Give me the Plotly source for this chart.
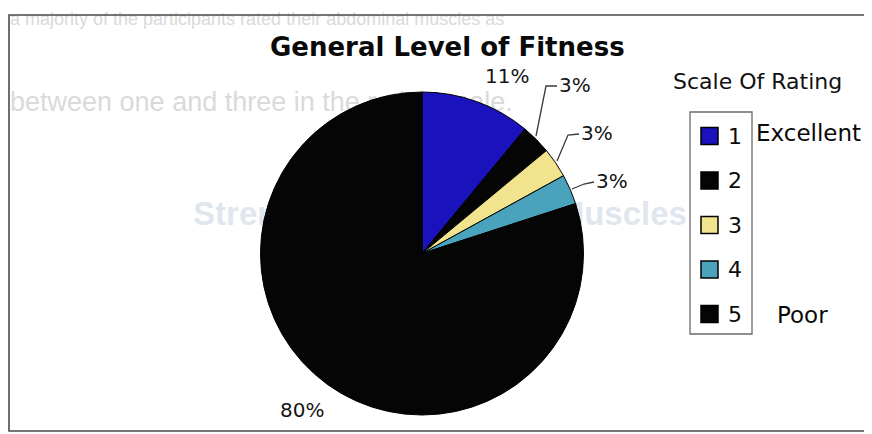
import plotly.graph_objects as go

# ---- data ----
ratings = ["1", "2", "3", "4", "5"]
rating_notes = ["Excellent", "", "", "", "Poor"]
percent_values = [11, 3, 3, 3, 80]
slice_colors = ["#1a12bc", "#050505", "#f2e48e", "#4aa2bc", "#050505"]

title_text = "General Level of Fitness"
legend_title = "Scale Of Rating"
bleed_lines = [
    "a majority of the participants rated their abdominal muscles as",
    "between one and three in the rating scale.",
    "Strength of Abdominal Muscles",
]

W, H = 872, 434
OFF = 8  # page body margin in the browser


def px(x):
    return (x - OFF) / W


def py(y):
    return 1 - (y - OFF) / H


# pie geometry (window pixels)
cx, cy, r = 422, 253.5, 161.5

fig = go.Figure()

# faint bleed-through text from the scanned page (drawn below the pie)
fig.add_trace(go.Scatter(
    x=[10], y=[20], mode="text",
    text=bleed_lines[:1], textposition="middle right",
    textfont=dict(family="Liberation Sans", size=18, color="#dadada"),
    hoverinfo="skip", showlegend=False, xaxis="x", yaxis="y",
))
fig.add_trace(go.Scatter(
    x=[10], y=[104], mode="text",
    text=bleed_lines[1:2], textposition="middle right",
    textfont=dict(family="Liberation Sans", size=27, color="#dadada"),
    hoverinfo="skip", showlegend=False, xaxis="x", yaxis="y",
))
fig.add_trace(go.Scatter(
    x=[440], y=[217], mode="text",
    text=["<b>" + bleed_lines[2] + "</b>"], textposition="middle center",
    textfont=dict(family="Liberation Sans", size=33, color="#e0e6ee"),
    hoverinfo="skip", showlegend=False, xaxis="x", yaxis="y",
))

fig.add_trace(go.Pie(
    labels=ratings,
    values=percent_values,
    sort=False,
    direction="clockwise",
    rotation=0,
    marker=dict(colors=slice_colors, line=dict(color="#000000", width=1)),
    textinfo="none",
    hoverinfo="label+percent",
    showlegend=False,
    domain=dict(x=[px(cx - r), px(cx + r)], y=[py(cy + r), py(cy - r)]),
))

annotations = []
shapes = []

# percentage labels
label_pos = [(507, 76), (575, 85), (597, 133), (612, 181), (302, 410)]
for v, (lx, ly) in zip(percent_values, label_pos):
    annotations.append(dict(
        x=px(lx), y=py(ly), xref="paper", yref="paper", text=f"{v}%",
        showarrow=False, xanchor="center", yanchor="middle",
        font=dict(family="DejaVu Sans", size=20, color="#151515"),
    ))

# leader lines for small slices
leaders = [
    [(557, 86), (546, 86), (536, 136)],
    [(579, 134), (568, 135), (557, 161)],
    [(594, 182), (584, 184), (572, 189)],
]
for pts in leaders:
    path = "M " + " L ".join(f"{px(x):.5f},{py(y):.5f}" for x, y in pts)
    shapes.append(dict(type="path", xref="paper", yref="paper", path=path,
                       line=dict(color="#3a3a3a", width=1.3)))

# title
annotations.append(dict(
    x=px(447), y=py(47), xref="paper", yref="paper", text="<b>" + title_text + "</b>",
    showarrow=False, xanchor="center", yanchor="middle",
    font=dict(family="DejaVu Sans", size=26, color="#0a0a0a"),
))

# legend title
annotations.append(dict(
    x=px(757), y=py(81), xref="paper", yref="paper", text=legend_title,
    showarrow=False, xanchor="center", yanchor="middle",
    font=dict(family="DejaVu Sans", size=22, color="#111111"),
))

# legend box
shapes.append(dict(type="rect", xref="paper", yref="paper",
                   x0=px(690), x1=px(752), y0=py(334), y1=py(112),
                   line=dict(color="#6a6a6a", width=1.3), fillcolor="rgba(0,0,0,0)"))

item_y0, item_step = 136, 44.5
for i, (lab, col, note) in enumerate(zip(ratings, slice_colors, rating_notes)):
    yc = item_y0 + i * item_step
    shapes.append(dict(type="rect", xref="paper", yref="paper",
                       x0=px(701), x1=px(718), y0=py(yc + 8.5), y1=py(yc - 8.5),
                       line=dict(color="#000000", width=1.5), fillcolor=col))
    annotations.append(dict(
        x=px(726), y=py(yc), xref="paper", yref="paper", text=lab,
        showarrow=False, xanchor="left", yanchor="middle",
        font=dict(family="DejaVu Sans", size=22, color="#0a0a0a"),
    ))
    if note:
        nx = 754 if i == 0 else 775
        ny = yc - 3 if i == 0 else yc + 1
        annotations.append(dict(
            x=px(nx), y=py(ny), xref="paper", yref="paper", text=note,
            showarrow=False, xanchor="left", yanchor="middle",
            font=dict(family="DejaVu Sans", size=23, color="#0a0a0a"),
        ))

# outer frame of the chart
shapes.append(dict(type="rect", xref="paper", yref="paper",
                   x0=px(9), x1=px(895), y0=py(431), y1=py(15),
                   line=dict(color="#4a4a4a", width=1.6), fillcolor="rgba(0,0,0,0)"))

fig.update_layout(
    width=W, height=H,
    margin=dict(l=0, r=0, t=0, b=0),
    paper_bgcolor="#ffffff", plot_bgcolor="#ffffff",
    showlegend=False,
    xaxis=dict(range=[OFF, W + OFF], visible=False, domain=[0, 1]),
    yaxis=dict(range=[H + OFF, OFF], visible=False, domain=[0, 1]),
    annotations=annotations,
    shapes=shapes,
)

fig.write_html("out.html")
